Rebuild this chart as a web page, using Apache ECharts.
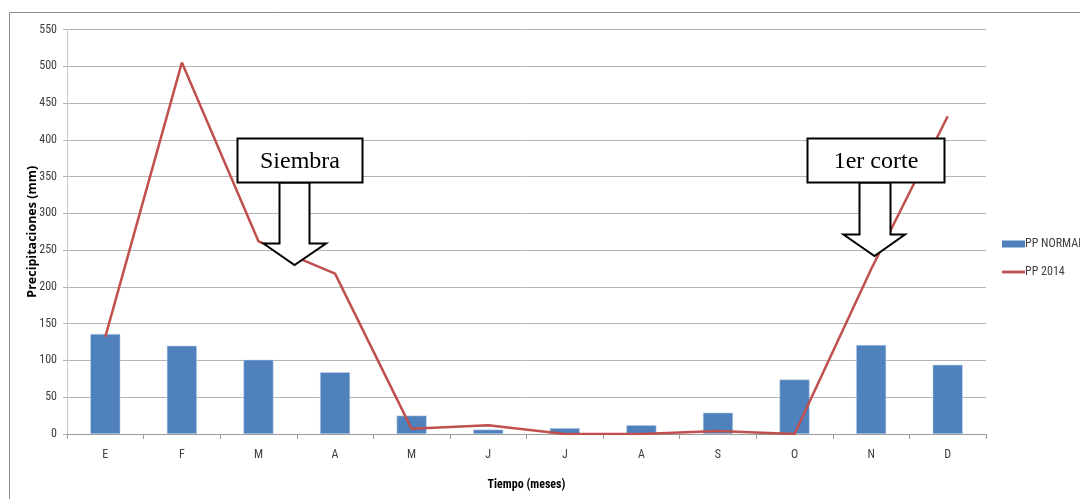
<!DOCTYPE html>
<html>
<head>
<meta charset="utf-8">
<script src="https://cdn.jsdelivr.net/npm/echarts@6/dist/echarts.min.js"></script>
<style>
  html, body { margin: 0; padding: 0; background: #ffffff; }
  #chart { width: 1080px; height: 499px; }
</style>
</head>
<body>
<div id="chart"></div>
<script>
// Monthly precipitation: long-term normal vs. 2014 (mm)
const months = ['Ene', 'Feb', 'Mar', 'Abr', 'May', 'Jun', 'Jul', 'Ago', 'Sep', 'Oct', 'Nov', 'Dic'];
const tickLabels = ['E', 'F', 'M', 'A', 'M', 'J', 'J', 'A', 'S', 'O', 'N', 'D'];
const ppNormal = [136, 120, 101, 84, 25, 6, 8, 12, 29, 74, 121, 94];
const pp2014 = [132, 505, 262, 218, 7, 12, 0, 0, 4, 0, 224, 432];
const yTicks = [0, 50, 100, 150, 200, 250, 300, 350, 400, 450, 500, 550];

const narrow = "'Liberation Sans Narrow', 'Arial Narrow', 'Roboto Condensed', 'Open Sans', sans-serif";
const wide = "'Open Sans', 'Noto Sans', sans-serif";
const serif = "'Liberation Serif', 'Times New Roman', serif";

// Callout: a labelled box with a hollow down-arrow under it
function callout(label, box, shaft, wings, tip, shaftBottom) {
  return [
    {
      type: 'polygon', z: 100,
      shape: { points: [
        [shaft[0], box[3]], [shaft[0], shaftBottom], [wings[0], shaftBottom],
        tip, [wings[1], shaftBottom], [shaft[1], shaftBottom], [shaft[1], box[3]]
      ] },
      style: { fill: '#ffffff', stroke: '#000000', lineWidth: 2 }
    },
    {
      type: 'rect', z: 101,
      shape: { x: box[0], y: box[1], width: box[2] - box[0], height: box[3] - box[1] },
      style: { fill: '#ffffff', stroke: '#000000', lineWidth: 2 }
    },
    {
      type: 'text', z: 102,
      x: (box[0] + box[2]) / 2, y: (box[1] + box[3]) / 2 + 1,
      style: { text: label, font: '24px ' + serif, fill: '#000000', align: 'center', verticalAlign: 'middle' }
    }
  ];
}

const chart = echarts.init(document.getElementById('chart'), null, { renderer: 'canvas' });

chart.setOption({
  backgroundColor: '#ffffff',
  animation: false,
  grid: { left: 67, right: 94, top: 29.5, bottom: 65, containLabel: false },
  legend: {
    orient: 'vertical',
    left: 1002, top: 238,
    padding: 0,
    itemWidth: 23, itemHeight: 7, itemGap: 16,
    itemStyle: { borderWidth: 0 },
    textStyle: { fontFamily: narrow, fontSize: 12, color: '#404040', padding: [0, 0, 0, -5] },
    data: [
      { name: 'PP NORMAL', icon: 'rect' },
      { name: 'PP 2014', icon: 'path://M0,0H23V2.8H0Z' }
    ]
  },
  xAxis: {
    type: 'category',
    data: months,
    name: 'Tiempo (meses)',
    nameLocation: 'middle',
    nameGap: 45,
    nameTextStyle: { fontFamily: narrow, fontSize: 12, fontWeight: 'bold', color: '#000000' },
    axisLine: { lineStyle: { color: '#9a9a9a', width: 1 } },
    axisTick: { show: true, length: 5, alignWithLabel: false, lineStyle: { color: '#9a9a9a' } },
    axisLabel: {
      margin: 15,
      fontFamily: narrow, fontSize: 12, color: '#404040',
      formatter: (v, i) => tickLabels[i]
    }
  },
  yAxis: {
    type: 'value',
    min: yTicks[0], max: yTicks[yTicks.length - 1], interval: 50,
    name: 'Precipitaciones (mm)',
    nameLocation: 'middle',
    nameGap: 28,
    nameMoveOverlap: false,
    nameRotate: 90,
    nameTextStyle: { fontFamily: wide, fontSize: 12.5, fontWeight: 'bold', color: '#000000' },
    axisLine: { show: true, lineStyle: { color: '#c8c8c8' } },
    axisTick: { show: true, length: 4, lineStyle: { color: '#b0b0b0' } },
    axisLabel: { margin: 10, fontFamily: narrow, fontSize: 12, color: '#404040' },
    splitLine: { lineStyle: { color: '#b4b4b4', width: 1 } }
  },
  series: [
    {
      name: 'PP NORMAL',
      type: 'bar',
      data: ppNormal,
      barWidth: 30,
      itemStyle: { color: '#4F81BD', borderColor: '#c6d9f1', borderWidth: 0.5 },
      z: 2
    },
    {
      name: 'PP 2014',
      type: 'line',
      data: pp2014,
      symbol: 'none',
      lineStyle: { color: '#C0504D', width: 2.5 },
      itemStyle: { color: '#C0504D' },
      z: 3
    }
  ],
  graphic: [
    {
      type: 'rect', z: 0, silent: true,
      shape: { x: 9.5, y: 12.5, width: 1200, height: 600 },
      style: { fill: 'none', stroke: '#8c8c8c', lineWidth: 1 }
    },
    ...callout('Siembra', [237.5, 138.5, 362.5, 182.5], [279.5, 309.5], [263.5, 326], [294.5, 265], 243.5),
    ...callout('1er corte', [807.5, 138.5, 944.5, 182.5], [859.5, 890.5], [843.5, 905], [874.5, 256], 234.5)
  ]
});
</script>
</body>
</html>
